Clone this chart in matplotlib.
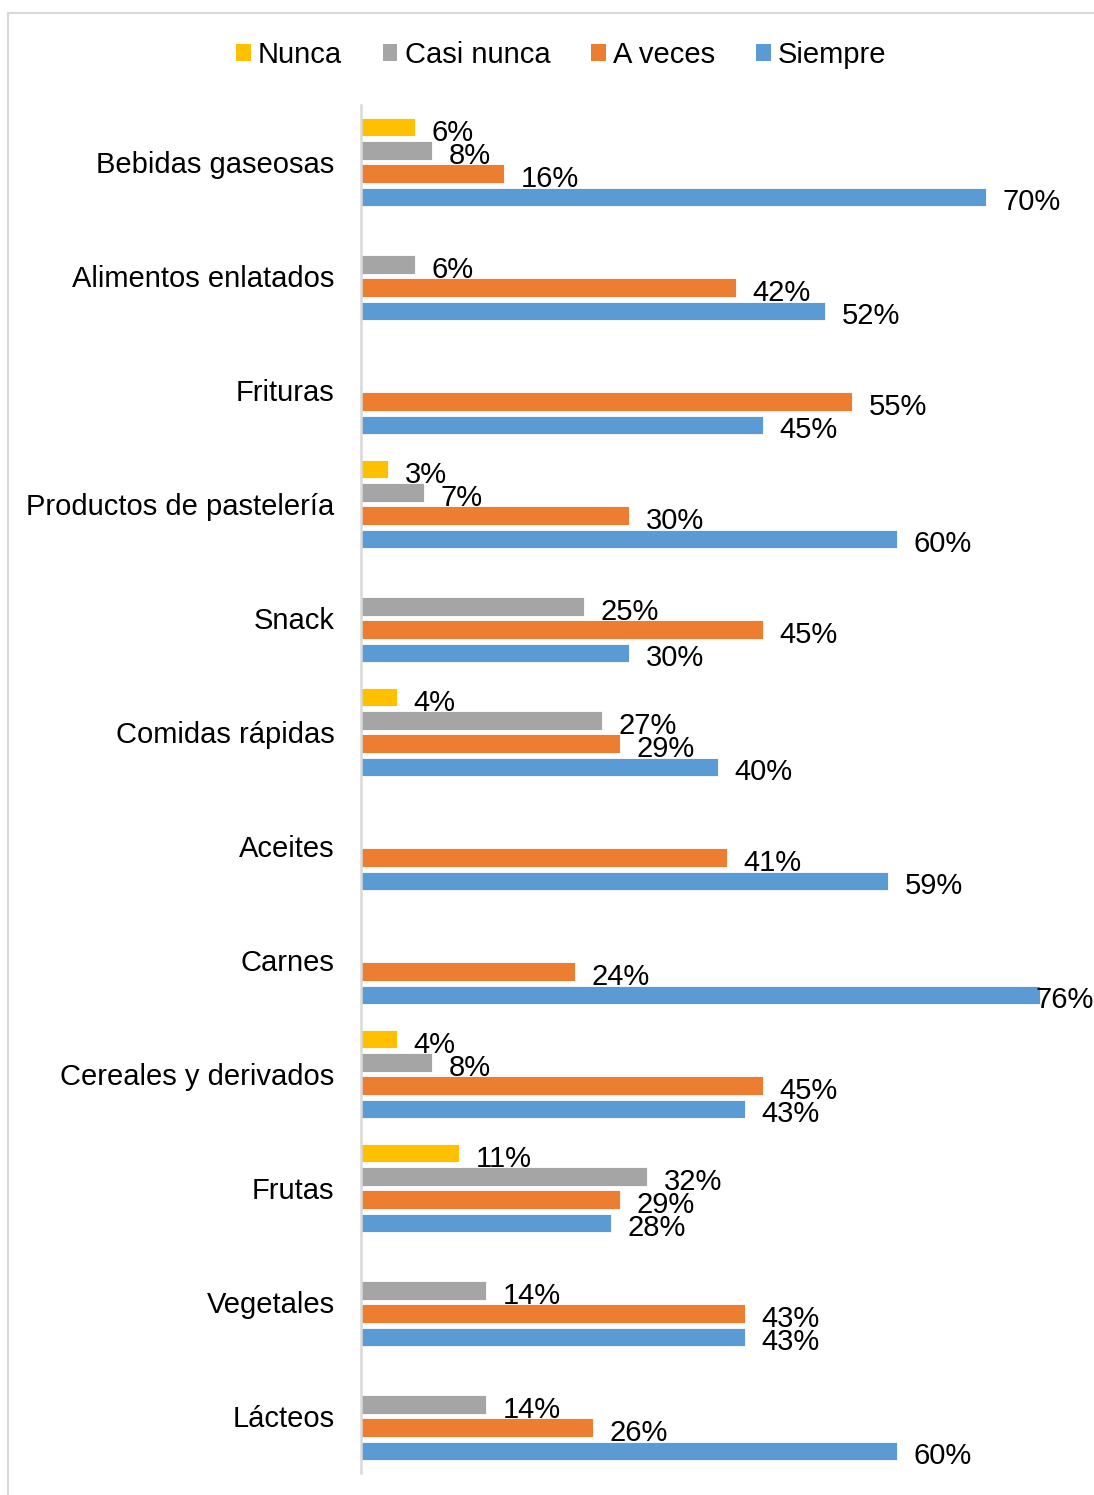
import matplotlib
matplotlib.use("Agg")
import matplotlib.pyplot as plt
from matplotlib.lines import Line2D
from matplotlib.patches import Patch
import numpy as np

plt.rcParams['font.family'] = ['Liberation Sans', 'DejaVu Sans']

categories = [
    "Bebidas gaseosas", "Alimentos enlatados", "Frituras",
    "Productos de pastelería", "Snack", "Comidas rápidas", "Aceites",
    "Carnes", "Cereales y derivados", "Frutas", "Vegetales", "Lácteos",
]
series_names = ["Nunca", "Casi nunca", "A veces", "Siempre"]
nunca      = [6, 0, 0, 3, 0, 4, 0, 0, 4, 11, 0, 0]
casi_nunca = [8, 6, 0, 7, 25, 27, 0, 0, 8, 32, 14, 14]
a_veces    = [16, 42, 55, 30, 45, 29, 41, 24, 45, 29, 43, 26]
siempre    = [70, 52, 45, 60, 30, 40, 59, 76, 43, 28, 43, 60]
colors = ["#FFC000", "#A5A5A5", "#ED7D31", "#5B9BD5"]

W, H = 1094, 1495
fig = plt.figure(figsize=(W / 100, H / 100), dpi=100)

# light outer frame of the chart area
frame_kw = dict(color="#d9d9d9", lw=1.5, transform=fig.transFigure)
fig.add_artist(Line2D([8 / W, 8 / W], [0, 1 - 13 / H], **frame_kw))
fig.add_artist(Line2D([8 / W, 1], [1 - 13 / H, 1 - 13 / H], **frame_kw))

left_px, top_px, bottom_px = 361, 105, 1473
ax = fig.add_axes([left_px / W, 1 - bottom_px / H,
                   1 - left_px / W, (bottom_px - top_px) / H])
px_per_unit = 8.93
xmax = (W - left_px) / px_per_unit
ax.set_xlim(0, xmax)
ax.set_ylim(len(categories) - 0.5, -0.5)

step = 0.2018
height = 0.158
ypos = np.arange(len(categories))
all_series = [nunca, casi_nunca, a_veces, siempre]
for i, (vals, col) in enumerate(zip(all_series, colors)):
    offs = (i - 1.5) * step
    for y, v in zip(ypos, vals):
        if v == 0:
            continue
        ax.barh(y + offs, v, height=height, color=col, edgecolor="white",
                linewidth=0.6)
        label = f"{v}%"
        if v + 8 > xmax:
            ax.annotate(label, xy=(1.0, y + offs),
                        xycoords=ax.get_yaxis_transform(),
                        xytext=(0, -1.5), textcoords="offset points",
                        ha="right", va="center_baseline", fontsize=21)
        else:
            ax.annotate(label, xy=(v, y + offs), xytext=(12, -1.5),
                        textcoords="offset points", ha="left",
                        va="center_baseline", fontsize=21)

ax.set_yticks(ypos)
ax.set_yticklabels(categories, fontsize=21)
ax.tick_params(axis="y", length=0, pad=19)
ax.set_xticks([])
for s in ["top", "right", "bottom"]:
    ax.spines[s].set_visible(False)
ax.spines["left"].set_color("#d9d9d9")
ax.spines["left"].set_linewidth(1.8)

handles = [Patch(facecolor=c, edgecolor="none") for c in colors]
fig.legend(handles, series_names, loc="center", ncol=4,
           bbox_to_anchor=(0.513, 1 - 55 / H), frameon=False, fontsize=21,
           handlelength=0.5, handleheight=0.5, handletextpad=0.25,
           columnspacing=1.4)

fig.savefig("out.png", dpi=100)
